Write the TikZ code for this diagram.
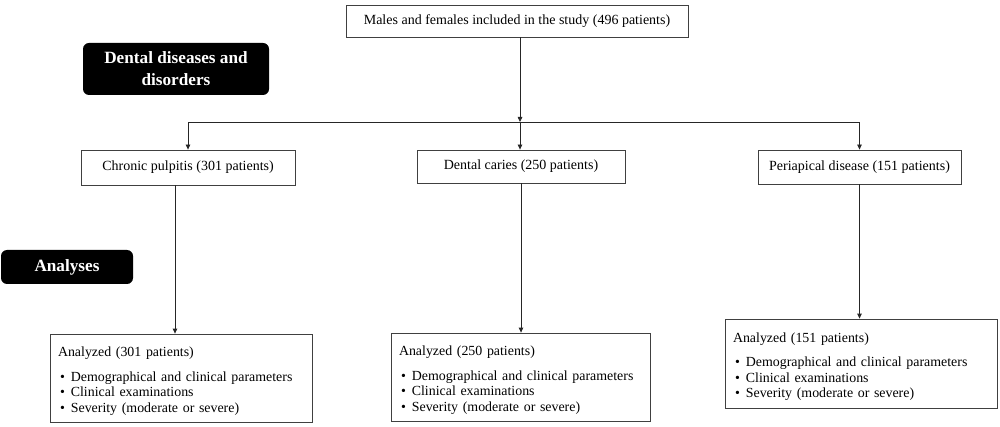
\documentclass[tikz,border=0pt]{standalone}
\usepackage{fontspec}
\setmainfont{Liberation Serif}
\usetikzlibrary{arrows.meta,calc}
\begin{document}
\begin{tikzpicture}[x=1pt,y=-1pt,
  box/.style={draw=black!75,line width=0.8pt,inner sep=0pt,font=\fontsize{14}{16}\selectfont,align=center},
  listbox/.style={draw=black!75,line width=0.8pt,inner xsep=8pt,inner ysep=0pt,font=\fontsize{13.9}{15.6}\selectfont,align=left},
  tag/.style={fill=black,rounded corners=6pt,text=white,inner sep=0pt,font=\fontsize{17.2}{22}\selectfont\bfseries,align=center},
  conn/.style={draw=black!85,line width=0.8pt},
  arr/.style={conn,-{Triangle[length=5pt,width=4.5pt]}}]
\useasboundingbox (0,0) rectangle (1000,427);
\fill[white] (0,0) rectangle (1000,427);

\node[box,minimum width=342pt,minimum height=32pt] (top) at (517,21) {Males and females included in the study (496 patients)};
\node[tag,minimum width=186pt,minimum height=52pt] (dd) at (176,69) {Dental diseases and\\disorders};
\node[tag,minimum width=132pt,minimum height=34pt] (an) at (67,267) {Analyses};

\node[box,minimum width=214pt,minimum height=35pt] (cp) at (188,167.5) {Chronic pulpitis (301 patients)};
\node[box,minimum width=208pt,minimum height=33pt] (dc) at (521,166.5) {Dental caries (250 patients)};
\node[box,minimum width=203pt,minimum height=34pt] (pd) at (859.5,167) {Periapical disease (151 patients)};

\newcommand{\anlist}[1]{\rule{0pt}{16pt}Analyzed (#1 patients)\\[9pt]
\hspace*{2pt}\textbullet\hspace{6pt}Demographical and clinical parameters\\
\hspace*{2pt}\textbullet\hspace{6pt}Clinical examinations\\
\hspace*{2pt}\textbullet\hspace{6pt}Severity (moderate or severe)}

\node[listbox,text width=246pt,minimum height=88pt] (a1) at (181,378) {\anlist{301}};
\node[listbox,text width=243pt,minimum height=88pt] (a2) at (520.5,377) {\anlist{250}};
\node[listbox,text width=256pt,minimum height=89pt] (a3) at (861,363.5) {\anlist{151}};

\coordinate (j) at (520,122);
\draw[arr] (j |- top.south) -- (j);
\draw[arr] (j) -| (cp.north);
\draw[arr] (j) -- (j |- dc.north);
\draw[arr] (j) -| (pd.north);

\draw[arr] ([xshift=-13pt]cp.south) -- ([xshift=-13pt]cp.south |- a1.north);
\draw[arr] (dc.south) -- (dc.south |- a2.north);
\draw[arr] (pd.south) -- (pd.south |- a3.north);
\end{tikzpicture}
\end{document}
